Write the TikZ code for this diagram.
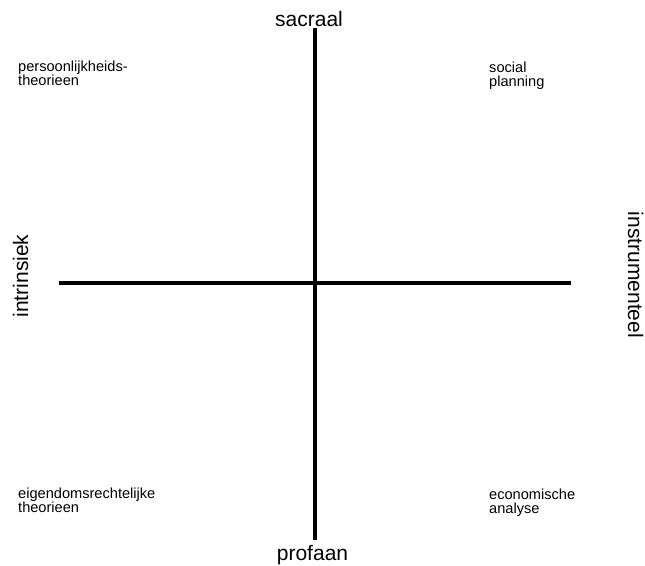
\documentclass[tikz,border=0pt]{standalone}
\usepackage{fontspec}
\setmainfont{Liberation Sans}
\begin{document}
\begin{tikzpicture}[x=1pt,y=1pt,
  axis/.style={line width=4pt},
  biglabel/.style={inner sep=0pt,anchor=base,font=\fontsize{21}{25}\selectfont},
  corner/.style={inner sep=0pt,anchor=base west,align=left,font=\fontsize{14.6}{13.8}\selectfont}]
\useasboundingbox (0,0) rectangle (645,565);
\coordinate (top) at (315,537);
\coordinate (bot) at (315,25);
\coordinate (lft) at (59,281.5);
\coordinate (rgt) at (571,281.5);
\draw[axis] (top) -- (bot);
\draw[axis] (lft) -- (rgt);
\node[biglabel] (sac) at (309,538) {sacraal};
\node[biglabel] (pro) at (312.5,5) {profaan};
\node[biglabel,rotate=90] (intr) at (28,289) {intrinsiek};
\node[biglabel,rotate=-90] (instr) at (628,290) {instrumenteel};
\node[corner] (tl) at (18,479.5) {persoonlijkheids-\\theorieen};
\node[corner] (tr) at (489,478.5) {social\\planning};
\node[corner] (bl) at (18,53) {eigendomsrechtelijke\\theorieen};
\node[corner] (br) at (489,51.5) {economische\\analyse};
\end{tikzpicture}
\end{document}
